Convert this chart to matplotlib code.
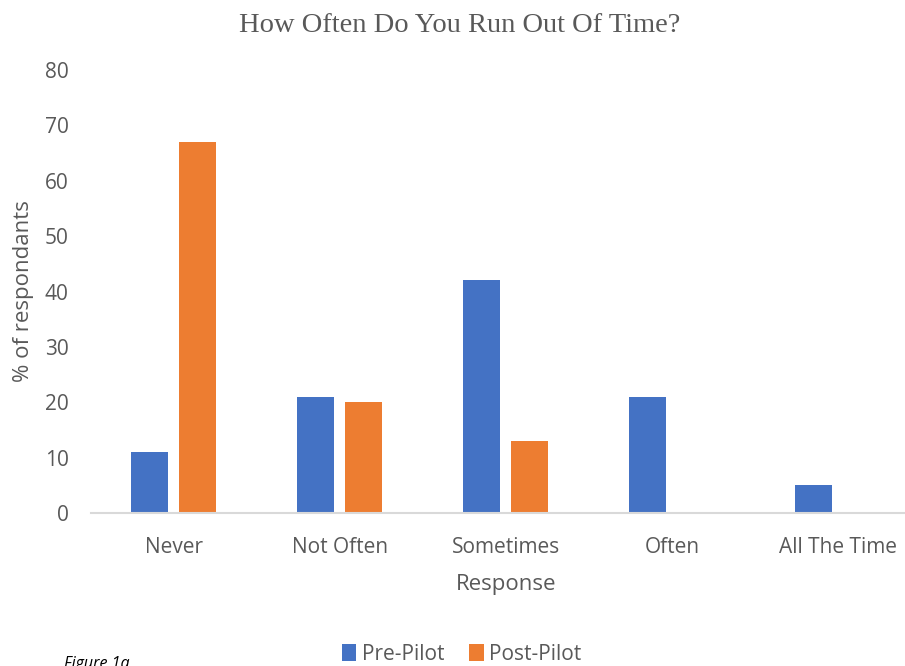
import matplotlib.pyplot as plt
import numpy as np

# Survey results (% of respondents)
categories = ['Never', 'Not Often', 'Sometimes', 'Often', 'All The Time']
pre_pilot = [11, 21, 42, 21, 5]
post_pilot = [67, 20, 13, 0, 0]
y_ticks = [0, 10, 20, 30, 40, 50, 60, 70, 80]

blue = '#4472C4'
orange = '#ED7D31'
grey = '#595959'
sans = ['Open Sans', 'DejaVu Sans']

fig = plt.figure(figsize=(9.05, 6.66), dpi=100)
ax = fig.add_axes([0.1006, 0.2297, 0.917, 0.6652])

x = np.arange(len(categories))
w = 0.223
ax.bar(x - 0.145, pre_pilot, w, color=blue, label='Pre-Pilot')
ax.bar(x + 0.14, post_pilot, w, color=orange, label='Post-Pilot')

ax.set_xlim(-0.5, len(categories) - 0.5)
ax.set_ylim(0, 80)
ax.set_yticks(y_ticks)
ax.set_xticks(x)
ax.set_xticklabels(categories)

for s in ['top', 'right', 'left']:
    ax.spines[s].set_visible(False)
ax.spines['bottom'].set_color('#D9D9D9')
ax.spines['bottom'].set_linewidth(1.5)
ax.tick_params(length=0, labelsize=15, labelcolor=grey)
ax.tick_params(axis='x', pad=17)
ax.tick_params(axis='y', pad=16)
for lbl in ax.get_xticklabels() + ax.get_yticklabels():
    lbl.set_family(sans)

ax.set_ylabel('% of respondants', fontsize=16, color=grey, family=sans, labelpad=8)
ax.set_xlabel('Response', fontsize=16, color=grey, family=sans, labelpad=12)

fig.text(0.508, 0.962, 'How Often Do You Run Out Of Time?', ha='center', va='center',
         fontsize=20.5, color=grey, family='Liberation Serif')

fig.legend(loc='center', bbox_to_anchor=(0.51, 0.018), ncol=2, frameon=False,
           prop={'family': sans, 'size': 15}, labelcolor=grey,
           handlelength=0.7, handleheight=0.9, handletextpad=0.25, columnspacing=1.2)

# caption sits at the bottom edge of the figure
fig.text(0.071, 0.015, 'Figure 1a', ha='left', va='top', fontsize=11.5,
         style='italic', color='black', family=sans)

fig.savefig('out.png', dpi=100)
